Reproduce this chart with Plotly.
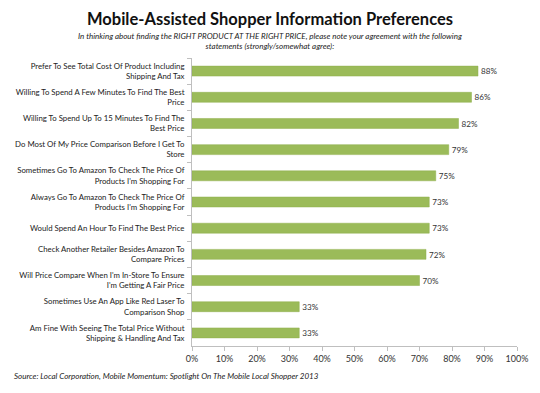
import plotly.graph_objects as go

categories = [
    "Prefer To See Total Cost Of Product Including<br>Shipping And Tax",
    "Willing To Spend A Few Minutes To Find The Best<br>Price",
    "Willing To Spend Up To 15 Minutes To Find The<br>Best Price",
    "Do Most Of My Price Comparison Before I Get To<br>Store",
    "Sometimes Go To Amazon To Check The Price Of<br>Products I'm Shopping For",
    "Always Go To Amazon To Check The Price Of<br>Products I'm Shopping For",
    "Would Spend An Hour To Find The Best Price",
    "Check Another Retailer Besides Amazon To<br>Compare Prices",
    "Will Price Compare When I'm In-Store To Ensure<br>I'm Getting A Fair Price",
    "Sometimes Use An App Like Red Laser To<br>Comparison Shop",
    "Am Fine With Seeing The Total Price Without<br>Shipping & Handling And Tax",
]
values = [88, 86, 82, 79, 75, 73, 73, 72, 70, 33, 33]
tick_vals = [0, 10, 20, 30, 40, 50, 60, 70, 80, 90, 100]
tick_text = [f"{v}%" for v in tick_vals]

title = "Mobile-Assisted Shopper Information Preferences"
subtitle = ("In thinking about finding the RIGHT PRODUCT AT THE RIGHT PRICE, please note your agreement with the following"
            "<br>statements (strongly/somewhat agree):")
source = "Source: Local Corporation, Mobile Momentum: Spotlight On The Mobile Local Shopper 2013"

font = "Lato, 'Open Sans', sans-serif"

# page body has an 8px default margin, so the figure is drawn 8px smaller
W, H = 532, 385
L, R, T, B = 184, 23, 50, 47

fig = go.Figure(go.Bar(
    x=values, y=categories, orientation="h",
    marker=dict(color="#9BBB59", line=dict(color="#8EAF4C", width=0.5)),
    width=0.38,
    text=[f"{v}%" for v in values], textposition="outside",
    textfont=dict(size=9, color="#333333", family=font),
    cliponaxis=False,
))

plot_h = H - T - B
plot_w = W - L - R
def py(y_top):
    return (H - B - y_top) / plot_h
def pxx(x):
    return (x - L) / plot_w

fig.update_layout(
    width=W, height=H,
    margin=dict(l=L, r=R, t=T, b=B, autoexpand=False),
    paper_bgcolor="white", plot_bgcolor="white",
    showlegend=False,
    font=dict(family=font, color="#222222"),
    xaxis=dict(range=[0, 100], tickvals=tick_vals, ticktext=tick_text, automargin=False,
               showgrid=False, zeroline=False, showline=True, linecolor="#BFBFBF",
               ticks="outside", ticklen=4, tickcolor="#BFBFBF",
               tickfont=dict(size=9, color="#333333"), fixedrange=True),
    yaxis=dict(autorange="reversed", showgrid=False, showline=True, linecolor="#BFBFBF",
               automargin=False,
               ticks="outside", ticklen=4, tickcolor="#BFBFBF", tickson="boundaries",
               tickfont=dict(size=7.8, color="#222222"), ticklabelstandoff=5),
    annotations=[
        dict(text="<b>" + title + "</b>", x=pxx(262), xref="paper", xanchor="center",
             y=py(11), yref="paper", yanchor="middle", showarrow=False,
             font=dict(size=16.5, color="#111111", family=font)),
        dict(text="<i>" + subtitle + "</i>", x=pxx(262), xref="paper", xanchor="center",
             y=py(33.5), yref="paper", yanchor="middle", showarrow=False,
             font=dict(size=8, color="#222222")),
        dict(text="<i>" + source + "</i>", x=pxx(4), xref="paper", xanchor="left",
             y=py(368), yref="paper", yanchor="middle", showarrow=False,
             font=dict(size=8, color="#222222")),
    ],
)

fig.write_html("out.html")
